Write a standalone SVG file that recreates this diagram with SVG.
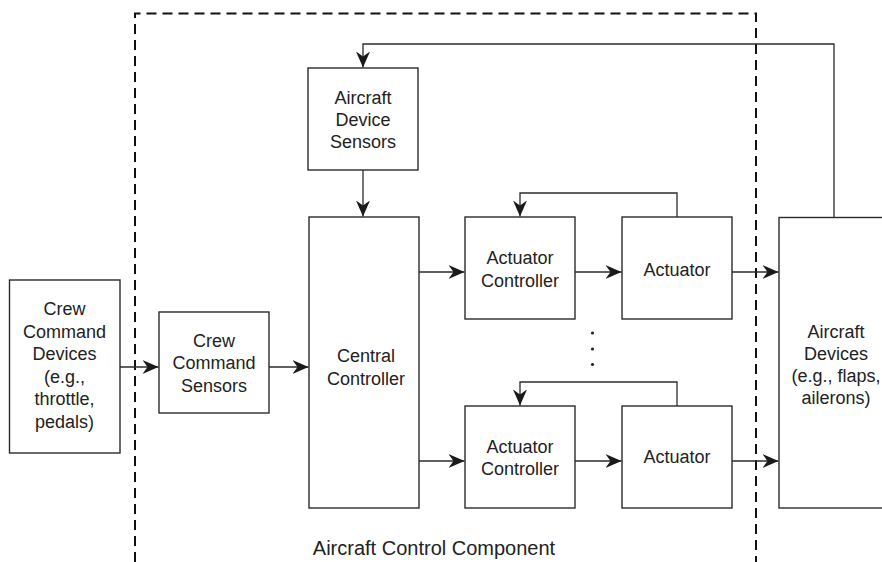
<svg xmlns="http://www.w3.org/2000/svg" width="882" height="562" viewBox="0 0 882 562">
  <style>
    .box { fill: #fff; stroke: #2b2b2b; stroke-width: 1.4; }
    .lbl { font-family: "Liberation Sans", Arial, sans-serif; font-size: 18px; fill: #222; text-anchor: middle; }
    .wire { fill: none; stroke: #2b2b2b; stroke-width: 1.3; }
    .arrow { marker-end: url(#head); }
    .boundary { fill: none; stroke: #111; stroke-width: 2; stroke-dasharray: 10 6; }
  </style>
  <defs>
    <marker id="head" viewBox="0 0 16 14" refX="16" refY="7" markerWidth="16" markerHeight="14" markerUnits="userSpaceOnUse" orient="auto">
      <path d="M0,0 L16,7 L0,14 L5,7 Z" fill="#1a1a1a"/>
    </marker>
  </defs>
  <rect width="882" height="562" fill="#fff"/>

  <!-- control component boundary (open at the bottom) -->
  <g id="control-component">
    <path class="boundary" d="M135,562 V13.5 H756 V562"/>
    <text class="lbl" x="434" y="555" style="font-size:20px">Aircraft Control Component</text>
  </g>

  <!-- connectors -->
  <g id="connectors">
    <path class="wire arrow" d="M834,217 V44 H363 V67.5"/>
    <path class="wire arrow" d="M363,170 V216.5"/>
    <path class="wire arrow" d="M120,367 H158.5"/>
    <path class="wire arrow" d="M269,367 H308.5"/>
    <path class="wire arrow" d="M419,272 H464.5"/>
    <path class="wire arrow" d="M575,272 H621.5"/>
    <path class="wire arrow" d="M732,272 H778.5"/>
    <path class="wire arrow" d="M677,217 V193 H520 V216.5"/>
    <path class="wire arrow" d="M419,461 H464.5"/>
    <path class="wire arrow" d="M575,461 H621.5"/>
    <path class="wire arrow" d="M732,461 H778.5"/>
    <path class="wire arrow" d="M677,406 V382 H520 V405.5"/>
    <g fill="#222">
      <circle cx="592.5" cy="333" r="1.6"/>
      <circle cx="592.5" cy="349" r="1.6"/>
      <circle cx="592.5" cy="364.5" r="1.6"/>
    </g>
  </g>

  <g id="crew-command-devices">
    <rect class="box" x="9.5" y="280" width="110.5" height="173"/>
    <text class="lbl" x="64.5" y="315">Crew</text>
    <text class="lbl" x="64.5" y="337.5">Command</text>
    <text class="lbl" x="64.5" y="360">Devices</text>
    <text class="lbl" x="64.5" y="382.5">(e.g.,</text>
    <text class="lbl" x="64.5" y="405">throttle,</text>
    <text class="lbl" x="64.5" y="427.5">pedals)</text>
  </g>

  <g id="crew-command-sensors">
    <rect class="box" x="159" y="312" width="110" height="101"/>
    <text class="lbl" x="214" y="346.5">Crew</text>
    <text class="lbl" x="214" y="369">Command</text>
    <text class="lbl" x="214" y="391.5">Sensors</text>
  </g>

  <g id="aircraft-device-sensors">
    <rect class="box" x="308" y="68" width="110" height="102"/>
    <text class="lbl" x="363" y="103.5">Aircraft</text>
    <text class="lbl" x="363" y="126">Device</text>
    <text class="lbl" x="363" y="148">Sensors</text>
  </g>

  <g id="central-controller">
    <rect class="box" x="309" y="217" width="110" height="291"/>
    <text class="lbl" x="366" y="362">Central</text>
    <text class="lbl" x="366" y="384.5">Controller</text>
  </g>

  <g id="actuator-controller-1">
    <rect class="box" x="465" y="217" width="110" height="102"/>
    <text class="lbl" x="520" y="263.5">Actuator</text>
    <text class="lbl" x="520" y="286.5">Controller</text>
  </g>

  <g id="actuator-1">
    <rect class="box" x="622" y="217" width="110" height="102"/>
    <text class="lbl" x="677" y="275.5">Actuator</text>
  </g>

  <g id="actuator-controller-n">
    <rect class="box" x="465" y="406" width="110" height="102"/>
    <text class="lbl" x="520" y="452.5">Actuator</text>
    <text class="lbl" x="520" y="474.5">Controller</text>
  </g>

  <g id="actuator-n">
    <rect class="box" x="622" y="406" width="110" height="102"/>
    <text class="lbl" x="677" y="463">Actuator</text>
  </g>

  <g id="aircraft-devices">
    <rect class="box" x="779" y="217.5" width="120" height="290.5"/>
    <text class="lbl" x="836" y="337.5">Aircraft</text>
    <text class="lbl" x="836" y="359.5">Devices</text>
    <text class="lbl" x="836" y="382">(e.g., flaps,</text>
    <text class="lbl" x="836" y="404">ailerons)</text>
  </g>
</svg>
